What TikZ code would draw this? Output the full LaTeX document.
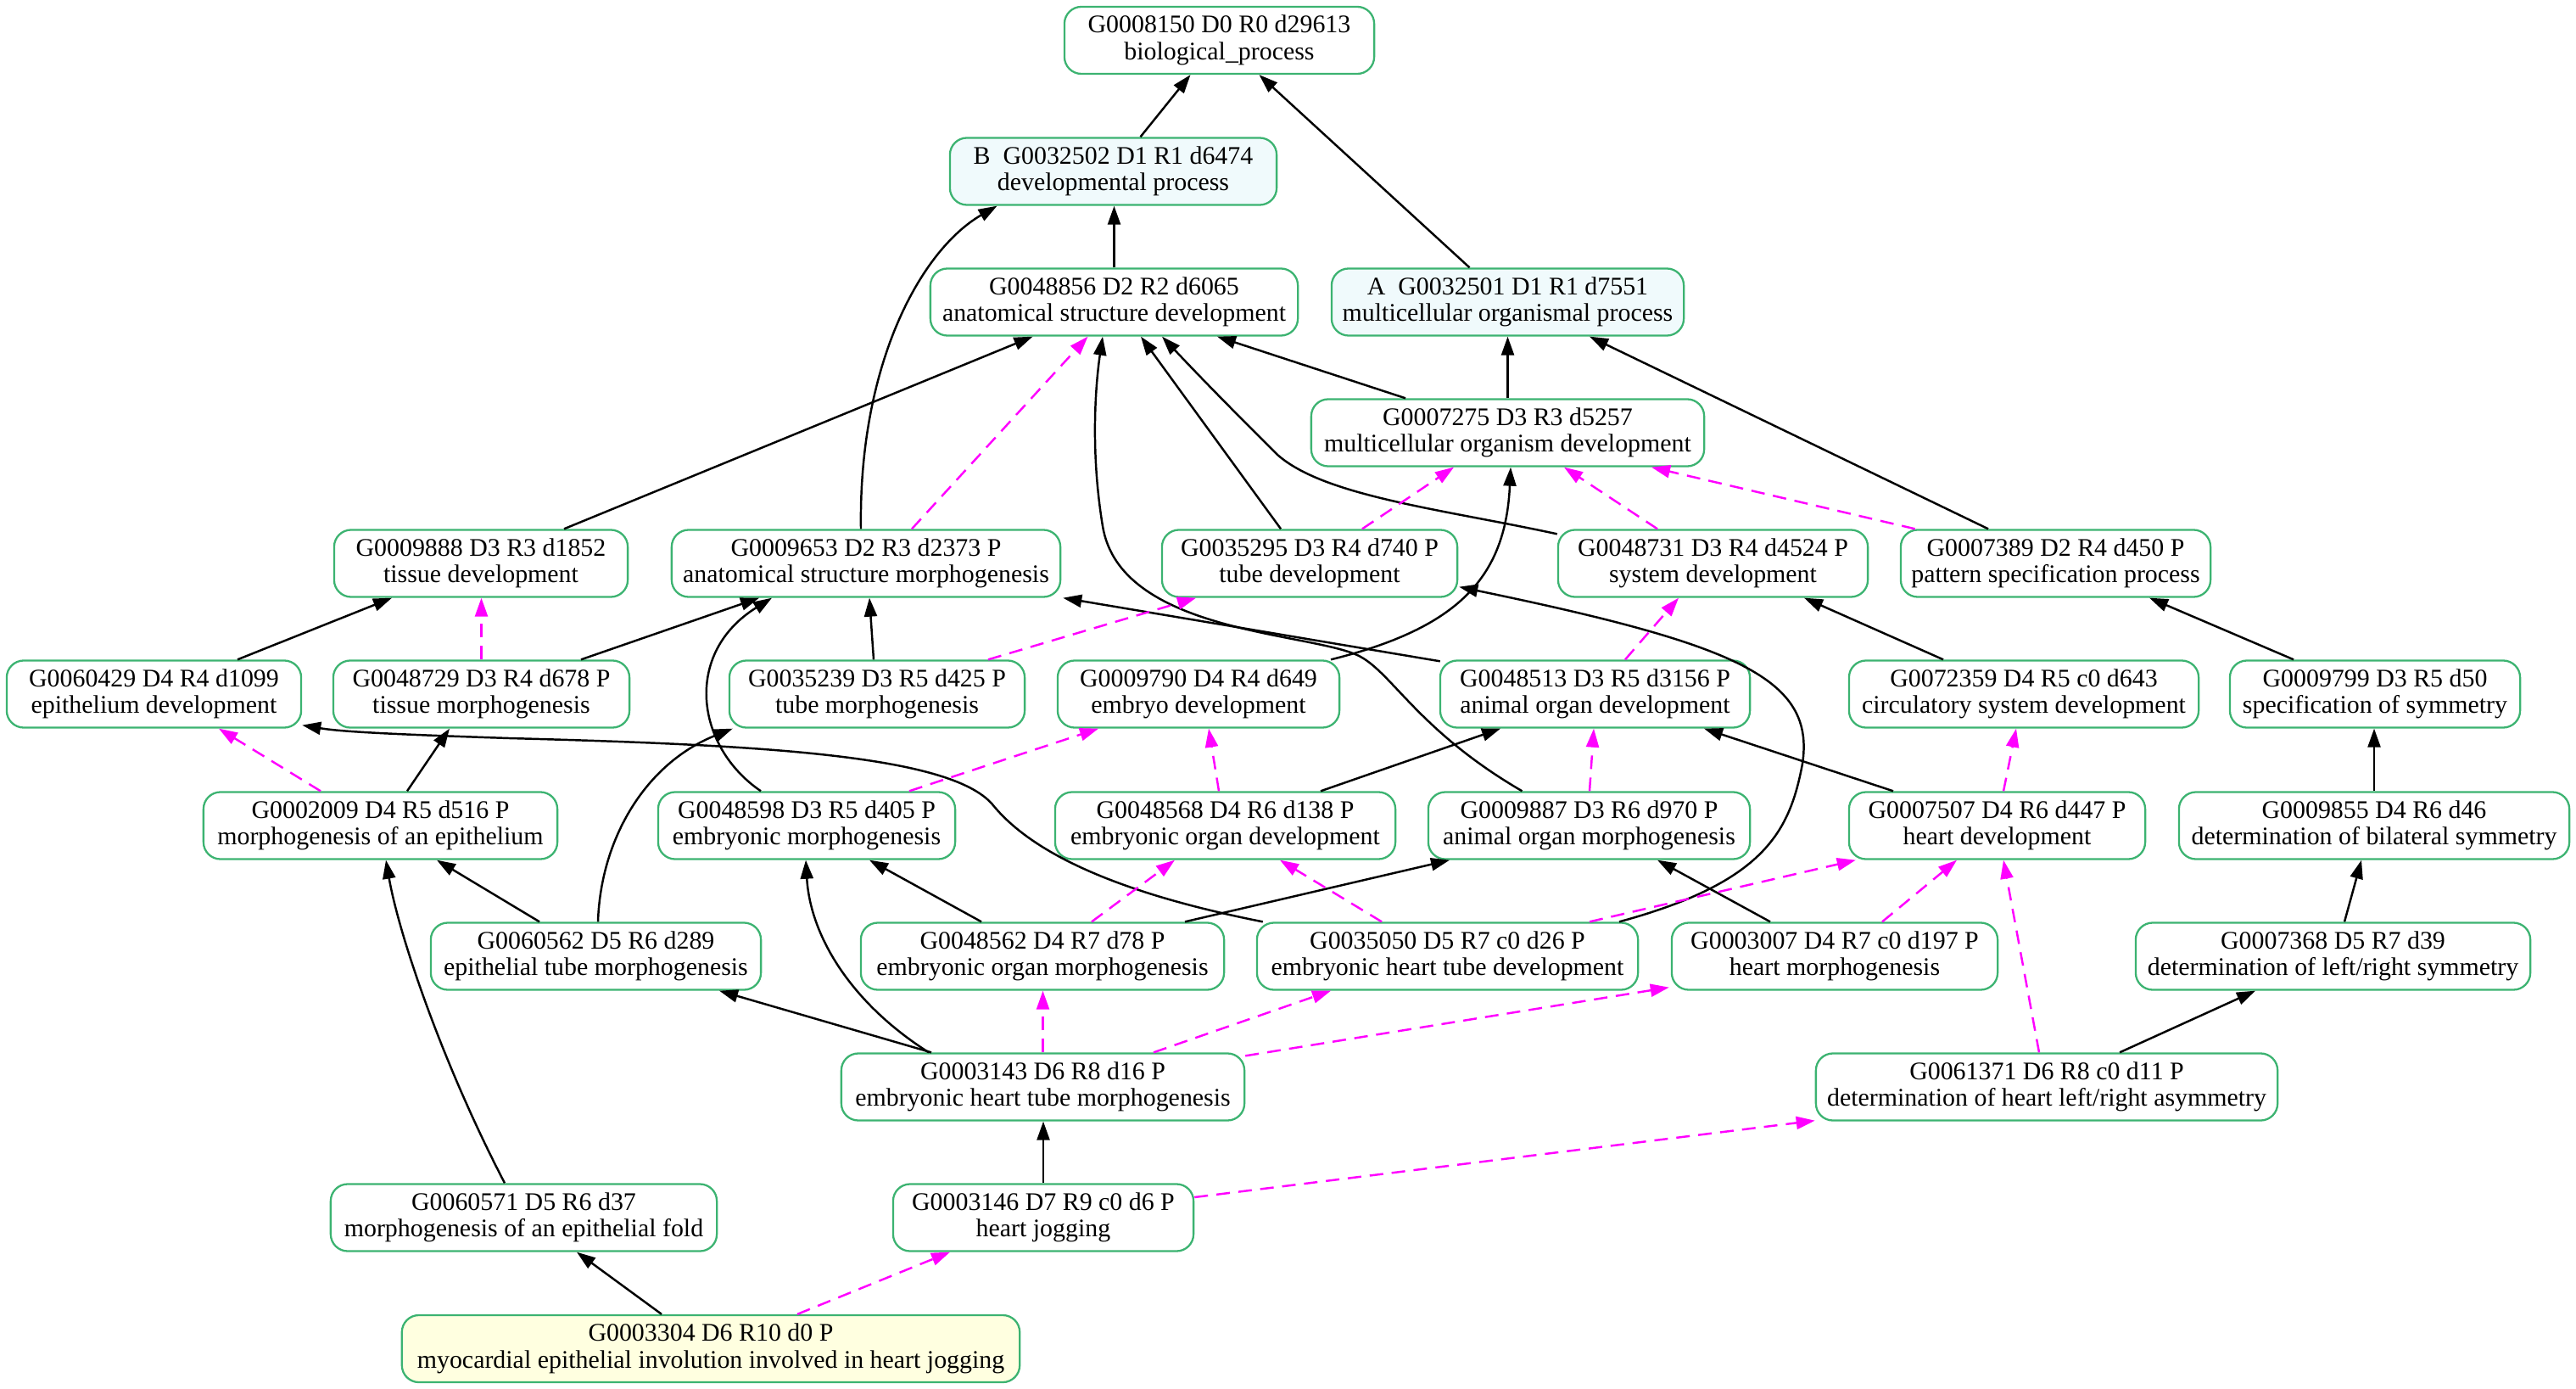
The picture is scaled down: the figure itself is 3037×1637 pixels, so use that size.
\documentclass[tikz,border=0pt]{standalone}
\usepackage{fontspec}
\setmainfont{Liberation Serif}
\usepackage{tikz}
\usetikzlibrary{arrows.meta, calc}
\definecolor{rim}{HTML}{3CB371}
\definecolor{azurefill}{HTML}{F0FAFC}
\definecolor{leaf}{HTML}{FFFFE0}
\definecolor{pof}{HTML}{FF00FF}

\begin{document}
\begin{tikzpicture}[x=0.01cm, y=-0.01cm,
      term/.style={rectangle, rounded corners=0.2cm, draw=rim, line width=0.65pt,
                   fill=white, align=center, inner sep=0pt, minimum height=0.79cm,
                   font=\fontsize{8.5}{8.95}\selectfont},
      isa/.style={draw=black, line width=0.7pt, -{Triangle[length=0.22cm,width=0.15cm]}},
      partof/.style={isa, draw=pof, dash pattern=on 0.16cm off 0.1cm}]
  \useasboundingbox (0,0) rectangle (3037,1637);

  % terms, row by row
  \node[term, minimum width=3.65cm] (n8150) at (1437.5,47.5) {G0008150 D0 R0 d29613\\biological\_process};
  \node[term, minimum width=3.85cm, fill=azurefill] (n32502) at (1312.5,202) {B\ \ G0032502 D1 R1 d6474\\developmental process};
  \node[term, minimum width=4.33cm] (n48856) at (1313.5,356) {G0048856 D2 R2 d6065\\anatomical structure development};
  \node[term, minimum width=4.15cm, fill=azurefill] (n32501) at (1777.5,356) {A\ \ G0032501 D1 R1 d7551\\multicellular organismal process};
  \node[term, minimum width=4.63cm] (n7275) at (1777.5,510) {G0007275 D3 R3 d5257\\multicellular organism development};

  \node[term, minimum width=3.46cm] (n9888) at (567,664) {G0009888 D3 R3 d1852\\tissue development};
  \node[term, minimum width=4.58cm] (n9653) at (1021,664) {G0009653 D2 R3 d2373 P\\anatomical structure morphogenesis};
  \node[term, minimum width=3.48cm] (n35295) at (1544,664) {G0035295 D3 R4 d740 P\\tube development};
  \node[term, minimum width=3.65cm] (n48731) at (2019.5,664) {G0048731 D3 R4 d4524 P\\system development};
  \node[term, minimum width=3.65cm] (n7389) at (2423.5,664) {G0007389 D2 R4 d450 P\\pattern specification process};

  \node[term, minimum width=3.47cm] (n60429) at (181.5,818) {G0060429 D4 R4 d1099\\epithelium development};
  \node[term, minimum width=3.49cm] (n48729) at (567.5,818) {G0048729 D3 R4 d678 P\\tissue morphogenesis};
  \node[term, minimum width=3.48cm] (n35239) at (1034,818) {G0035239 D3 R5 d425 P\\tube morphogenesis};
  \node[term, minimum width=3.32cm] (n9790) at (1413,818) {G0009790 D4 R4 d649\\embryo development};
  \node[term, minimum width=3.65cm] (n48513) at (1880.5,818) {G0048513 D3 R5 d3156 P\\animal organ development};
  \node[term, minimum width=4.12cm] (n72359) at (2386,818) {G0072359 D4 R5 c0 d643\\circulatory system development};
  \node[term, minimum width=3.42cm] (n9799) at (2800,818) {G0009799 D3 R5 d50\\specification of symmetry};

  \node[term, minimum width=4.17cm] (n2009) at (448.5,973) {G0002009 D4 R5 d516 P\\morphogenesis of an epithelium};
  \node[term, minimum width=3.50cm] (n48598) at (951,973) {G0048598 D3 R5 d405 P\\embryonic morphogenesis};
  \node[term, minimum width=4.01cm] (n48568) at (1444.5,973) {G0048568 D4 R6 d138 P\\embryonic organ development};
  \node[term, minimum width=3.79cm] (n9887) at (1873.5,973) {G0009887 D3 R6 d970 P\\animal organ morphogenesis};
  \node[term, minimum width=3.49cm] (n7507) at (2354.5,973) {G0007507 D4 R6 d447 P\\heart development};
  \node[term, minimum width=4.60cm] (n9855) at (2799,973) {G0009855 D4 R6 d46\\determination of bilateral symmetry};

  \node[term, minimum width=3.89cm] (n60562) at (702.5,1127) {G0060562 D5 R6 d289\\epithelial tube morphogenesis};
  \node[term, minimum width=4.28cm] (n48562) at (1229,1127) {G0048562 D4 R7 d78 P\\embryonic organ morphogenesis};
  \node[term, minimum width=4.49cm] (n35050) at (1706.5,1127) {G0035050 D5 R7 c0 d26 P\\embryonic heart tube development};
  \node[term, minimum width=3.84cm] (n3007) at (2163,1127) {G0003007 D4 R7 c0 d197 P\\heart morphogenesis};
  \node[term, minimum width=4.65cm] (n7368) at (2750.5,1127) {G0007368 D5 R7 d39\\determination of left/right symmetry};

  \node[term, minimum width=4.75cm] (n3143) at (1229.5,1281) {G0003143 D6 R8 d16 P\\embryonic heart tube morphogenesis};
  \node[term, minimum width=5.44cm] (n61371) at (2413,1281) {G0061371 D6 R8 c0 d11 P\\determination of heart left/right asymmetry};

  \node[term, minimum width=4.55cm] (n60571) at (617.5,1435) {G0060571 D5 R6 d37\\morphogenesis of an epithelial fold};
  \node[term, minimum width=3.54cm] (n3146) at (1230,1435) {G0003146 D7 R9 c0 d6 P\\heart jogging};

  \node[term, minimum width=7.28cm, fill=leaf] (n3304) at (838,1589.5) {G0003304 D6 R10 d0 P\\myocardial epithelial involution involved in heart jogging};

  % is_a links
  \draw[isa] ($(n32502.north)+(32,0)$) -- ($(n8150.south)+(-34,0)$);
  \draw[isa] ($(n32501.north)+(-45,0)$) -- ($(n8150.south)+(47,0)$);
  \draw[isa] (n48856.north) -- (n48856.north |- n32502.south);
  \draw[isa] ($(n9653.north)+(-6,0)$) .. controls (1012,430) and (1085,295) .. ($(n32502.south)+(-137,0)$);
  \draw[isa] ($(n9888.north)+(98,0)$) -- ($(n48856.south)+(-96,0)$);
  \draw[isa] ($(n9887.north)+(-79,0)$) .. controls (1670,860) and (1640,790) .. (1600,772)
     .. controls (1540,745) and (1320,745) .. (1300,620)
     .. controls (1285,530) and (1292,450) .. ($(n48856.south)+(-13.5,0)$);
  \draw[isa] ($(n35295.north)+(-34,0)$) -- ($(n48856.south)+(31.5,0)$);
  \draw[isa] ($(n48731.north west)+(0,6)$) .. controls (1700,600) and (1560,585) .. (1505,535)
     .. controls (1465,495) and (1425,455) .. ($(n48856.south)+(56.5,0)$);
  \draw[isa] ($(n7275.north)+(-120.5,0)$) -- ($(n48856.south)+(121.5,0)$);
  \draw[isa] (n7275.north) -- (n32501.south);
  \draw[isa] ($(n7389.north)+(-79.5,0)$) -- ($(n32501.south)+(96.5,0)$);
  \draw[isa] ($(n9790.north)+(156,0)$) .. controls (1720,740) and (1775,680) .. ($(n7275.south)+(3.5,0)$);
  \draw[isa] ($(n35050.north)+(202.5,0)$) .. controls (2080,1040) and (2110,980) .. (2125,900)
     .. controls (2140,800) and (2050,760) .. ($(n35295.south east)+(1,-13)$);
  \draw[isa] ($(n72359.north)+(-95,0)$) -- ($(n48731.south)+(107.5,0)$);
  \draw[isa] ($(n9799.north)+(-96,0)$) -- ($(n7389.south)+(110.5,0)$);
  \draw[isa] ($(n48513.north west)+(1,2)$) -- ($(n9653.south east)+(2,0)$);
  \draw[isa] ($(n60429.north)+(98.5,0)$) -- ($(n9888.south)+(-105,0)$);
  \draw[isa] ($(n48729.north)+(117.5,0)$) -- ($(n9653.south)+(-126,0)$);
  \draw[isa] ($(n48598.north)+(-54,0)$) .. controls (820,880) and (805,770) .. ($(n9653.south)+(-111,0)$);
  \draw[isa] ($(n35239.north)+(-4,0)$) -- ($(n9653.south)+(4,0)$);
  \draw[isa] ($(n2009.north)+(31.5,0)$) -- ($(n48729.south)+(-37.5,0)$);
  \draw[isa] ($(n35050.north west)+(8,0)$) .. controls (1330,1055) and (1220,1010) .. (1170,948)
     .. controls (1120,890) and (900,878) .. (600,870)
     .. controls (450,865) and (400,862) .. ($(n60429.south east)+(0,-4)$);
  \draw[isa] ($(n60562.north)+(-66.5,0)$) -- ($(n2009.south)+(66.5,0)$);
  \draw[isa] ($(n60562.north)+(2.5,0)$) .. controls (708,990) and (760,900) .. ($(n35239.south west)+(5,0)$);
  \draw[isa] ($(n60571.north)+(-22.5,0)$) .. controls (520,1250) and (470,1100) .. ($(n2009.south)+(6.5,0)$);
  \draw[isa] ($(n48562.north)+(-72,0)$) -- ($(n48598.south)+(74,0)$);
  \draw[isa] ($(n48562.north)+(168,0)$) -- ($(n9887.south)+(-164.5,0)$);
  \draw[isa] ($(n3143.north)+(-131.5,0)$) -- ($(n60562.south)+(145.5,0)$);
  \draw[isa] ($(n3143.north)+(-134.5,0)$) .. controls (1000,1180) and (955,1100) .. ($(n48598.south)+(-1,0)$);
  \draw[isa] (n3146.north) -- (n3146.north |- n3143.south);
  \draw[isa] ($(n3304.north)+(-58,0)$) -- ($(n60571.south)+(62.5,0)$);
  \draw[isa] ($(n48568.north)+(112.5,0)$) -- ($(n48513.south)+(-111.5,0)$);
  \draw[isa] ($(n7507.north)+(-122.5,0)$) -- ($(n48513.south)+(128.5,0)$);
  \draw[isa] (n9855.north) -- (n9855.north |- n9799.south);
  \draw[isa] ($(n3007.north)+(-76,0)$) -- ($(n9887.south)+(80.5,0)$);
  \draw[isa] ($(n7368.north)+(13.5,0)$) -- ($(n9855.south)+(-15,0)$);
  \draw[isa] ($(n61371.north)+(86,0)$) -- ($(n7368.south)+(-91.5,0)$);

  % part_of links
  \draw[partof] ($(n9653.north)+(54,0)$) -- ($(n48856.south)+(-31,0)$);
  \draw[partof] ($(n35295.north)+(62,0)$) -- ($(n7275.south)+(-63.5,0)$);
  \draw[partof] ($(n48731.north)+(-65.5,0)$) -- ($(n7275.south)+(66.5,0)$);
  \draw[partof] ($(n7389.north west)+(18,0)$) -- ($(n7275.south)+(169.5,0)$);
  \draw[partof] ($(n48513.north)+(35.5,0)$) -- ($(n48731.south)+(-40.5,0)$);
  \draw[partof] (n48729.north) -- (n48729.north |- n9888.south);
  \draw[partof] ($(n35239.north)+(131,0)$) -- ($(n35295.south)+(-134,0)$);
  \draw[partof] ($(n2009.north)+(-70.5,0)$) -- ($(n60429.south)+(76.5,0)$);
  \draw[partof] ($(n48598.north)+(121,0)$) -- ($(n9790.south)+(-118,0)$);
  \draw[partof] ($(n48568.north)+(-7.5,0)$) -- ($(n9790.south)+(12,0)$);
  \draw[partof] ($(n48562.north)+(58,0)$) -- ($(n48568.south)+(-59.5,0)$);
  \draw[partof] (n3143.north) -- (n3143.north |- n48562.south);
  \draw[partof] ($(n3143.north)+(130.5,0)$) -- ($(n35050.south)+(-137.5,0)$);
  \draw[partof] ($(n3143.north east)+(0,4)$) -- ($(n3007.south west)+(-2,-4)$);
  \draw[partof] ($(n3146.east)+(0,-24)$) -- ($(n61371.south west)+(0,-1)$);
  \draw[partof] ($(n3304.north)+(102,0)$) -- ($(n3146.south)+(-110,0)$);
  \draw[partof] ($(n9887.north)+(0.5,0)$) -- ($(n48513.south)+(-1.5,0)$);
  \draw[partof] ($(n7507.north)+(7.5,0)$) -- ($(n72359.south)+(-9,0)$);
  \draw[partof] ($(n35050.north)+(-77.5,0)$) -- ($(n48568.south)+(64.5,0)$);
  \draw[partof] ($(n35050.north)+(167.5,0)$) -- ($(n7507.south west)+(9,0)$);
  \draw[partof] ($(n3007.north)+(56,0)$) -- ($(n7507.south)+(-47.5,0)$);
  \draw[partof] ($(n61371.north)+(-9,0)$) -- ($(n7507.south)+(7.5,0)$);
\end{tikzpicture}
\end{document}
